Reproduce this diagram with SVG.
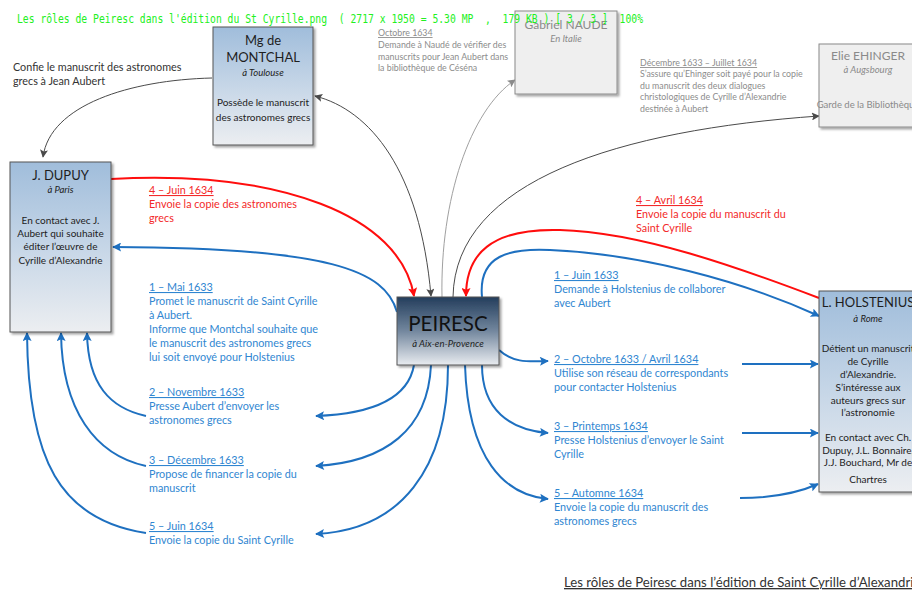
<svg xmlns="http://www.w3.org/2000/svg" width="912" height="592" viewBox="0 0 912 592">
<style>
text{font-family:Lato,"Open Sans","Liberation Sans",sans-serif}
.nm{font-size:13px;fill:#1e1e1e;text-anchor:middle}
.pl{font-size:9.5px;fill:#222;font-style:italic;text-anchor:middle}
.ds{font-size:10px;fill:#222;text-anchor:middle}
.gn{font-size:12px;fill:#8a8a8a;text-anchor:middle}
.gp{font-size:9.5px;fill:#8a8a8a;font-style:italic;text-anchor:middle}
.gd{font-size:9.5px;fill:#8a8a8a;text-anchor:middle}
.ga{font-size:8.8px;fill:#8c8c8c}
.bl{font-size:10.8px;fill:#2f86d1}
.rd{font-size:10.8px;fill:#f32a2a}
.u{text-decoration:underline}
.cb{fill:none;stroke:#1e70c0;stroke-width:2}
.cr{fill:none;stroke:#ff0d0d;stroke-width:2}
.cg{fill:none;stroke:#4a4a4a;stroke-width:1}
.cl{fill:none;stroke:#a0a0a0;stroke-width:1}
</style>
<defs>
<linearGradient id="gBlue" x1="0" y1="0" x2="0" y2="1">
<stop offset="0" stop-color="#a0bddb"/><stop offset="0.5" stop-color="#c6d6e7"/><stop offset="1" stop-color="#eceef1"/>
</linearGradient>
<linearGradient id="gPei" x1="0" y1="0" x2="0" y2="1">
<stop offset="0" stop-color="#233d5c"/><stop offset="0.5" stop-color="#73879e"/><stop offset="1" stop-color="#e9ecf0"/>
</linearGradient>
<filter id="sh" x="-10%" y="-10%" width="130%" height="130%">
<feDropShadow dx="2" dy="2" stdDeviation="1.2" flood-color="#000" flood-opacity="0.35"/>
</filter>
<marker id="mb" viewBox="0 0 10 10" refX="9" refY="5" markerWidth="10" markerHeight="9" markerUnits="userSpaceOnUse" orient="auto"><path d="M0,0 L10,5 L0,10 L2,5 z" fill="#1e70c0"/></marker>
<marker id="mr" viewBox="0 0 10 10" refX="9" refY="5" markerWidth="10" markerHeight="9" markerUnits="userSpaceOnUse" orient="auto"><path d="M0,0 L10,5 L0,10 L2,5 z" fill="#ff0d0d"/></marker>
<marker id="mg" viewBox="0 0 10 10" refX="9" refY="5" markerWidth="9" markerHeight="8" markerUnits="userSpaceOnUse" orient="auto-start-reverse"><path d="M0,0 L10,5 L0,10 L2,5 z" fill="#4a4a4a"/></marker>
<marker id="ml" viewBox="0 0 10 10" refX="9" refY="5" markerWidth="9" markerHeight="8" markerUnits="userSpaceOnUse" orient="auto"><path d="M0,0 L10,5 L0,10 L2,5 z" fill="#8a8a8a"/></marker>
</defs>
<rect width="912" height="592" fill="#fff"/>

<g id="connectors">
<path class="cg" d="M212,78 C130,80 50,105 43,157" marker-end="url(#mg)"/>
<path class="cg" d="M431,296 C420,170 370,110 315,96" marker-start="url(#mg)" marker-end="url(#mg)"/>
<path class="cl" d="M442,297 C440,200 470,110 515,80" marker-end="url(#ml)"/>
<path class="cg" d="M453,297 C455,180 620,130 819,116" marker-end="url(#mg)"/>
<path class="cr" d="M111,179 C280,170 400,215 414,296" marker-end="url(#mr)"/>
<path class="cr" d="M819,298 C740,268 640,232 560,230 C490,228 466,255 466,296" marker-end="url(#mr)"/>
<path class="cb" d="M482,297 C478,255 510,248 550,250 C640,254 740,280 819,316" marker-end="url(#mb)"/>
<path class="cb" d="M397,312 C385,270 330,248 113,247" marker-end="url(#mb)"/>
<path class="cb" d="M414,365 C408,400 370,414 316,416" marker-end="url(#mb)"/>
<path class="cb" d="M431,365 C428,430 385,462 316,466" marker-end="url(#mb)"/>
<path class="cb" d="M448,365 C448,470 400,530 316,534" marker-end="url(#mb)"/>
<path class="cb" d="M499,350 C512,362 525,362 548,361" marker-end="url(#mb)"/>
<path class="cb" d="M482,365 C482,410 510,430 548,433" marker-end="url(#mb)"/>
<path class="cb" d="M465,365 C468,460 505,495 548,499" marker-end="url(#mb)"/>
<path class="cb" d="M146,416 C110,408 88,385 87,333" marker-end="url(#mb)"/>
<path class="cb" d="M146,466 C95,455 62,410 61,333" marker-end="url(#mb)"/>
<path class="cb" d="M146,533 C60,520 28,460 27,333" marker-end="url(#mb)"/>
<path class="cb" d="M742,364 L818,364" marker-end="url(#mb)"/>
<path class="cb" d="M742,433 L818,433" marker-end="url(#mb)"/>
<path class="cb" d="M740,498 C775,498 800,492 818,484" marker-end="url(#mb)"/>
</g>

<g id="montchal">
<rect x="213" y="27" width="100" height="118" fill="url(#gBlue)" stroke="#555" stroke-width="1" filter="url(#sh)"/>
<text class="nm" x="263" y="45">Mg de</text>
<text class="nm" x="263" y="62">MONTCHAL</text>
<text class="pl" x="263" y="76">à Toulouse</text>
<text class="ds" x="263" y="106">Possède le manuscrit</text>
<text class="ds" x="263" y="121">des astronomes grecs</text>
</g>

<g id="dupuy">
<rect x="10" y="162" width="101" height="170" fill="url(#gBlue)" stroke="#555" stroke-width="1" filter="url(#sh)"/>
<text class="nm" x="60.5" y="180">J. DUPUY</text>
<text class="pl" x="60.5" y="193">à Paris</text>
<text class="ds" x="60.5" y="224">En contact avec J.</text>
<text class="ds" x="60.5" y="237">Aubert qui souhaite</text>
<text class="ds" x="60.5" y="250">éditer l’œuvre de</text>
<text class="ds" x="60.5" y="264">Cyrille d’Alexandrie</text>
</g>

<g id="peiresc">
<rect x="397" y="297" width="102" height="68" fill="url(#gPei)" stroke="#555" stroke-width="1" filter="url(#sh)"/>
<text x="448" y="331" style="font-size:20.5px;fill:#111;text-anchor:middle">PEIRESC</text>
<text class="pl" x="448" y="347">à Aix-en-Provence</text>
</g>

<g id="holstenius">
<rect x="819" y="291" width="100" height="201" fill="url(#gBlue)" stroke="#555" stroke-width="1" filter="url(#sh)"/>
<text class="nm" x="868" y="307">L. HOLSTENIUS</text>
<text class="pl" x="868" y="322">à Rome</text>
<text class="ds" x="868" y="352">Détient  un manuscrit</text>
<text class="ds" x="868" y="365">de Cyrille</text>
<text class="ds" x="868" y="378">d’Alexandrie.</text>
<text class="ds" x="868" y="391">S’intéresse aux</text>
<text class="ds" x="868" y="404">auteurs grecs sur</text>
<text class="ds" x="868" y="416">l’astronomie</text>
<text class="ds" x="868" y="441">En contact avec Ch.</text>
<text class="ds" x="868" y="454">Dupuy, J.L. Bonnaire,</text>
<text class="ds" x="868" y="466">J.J. Bouchard, Mr de</text>
<text class="ds" x="868" y="483">Chartres</text>
</g>

<g id="naude">
<rect x="515" y="11" width="102" height="83" fill="#efefef" stroke="#8a8a8a" stroke-width="1" filter="url(#sh)"/>
<text class="gn" x="566" y="29">Gabriel NAUDE</text>
<text class="gp" x="566" y="42">En Italie</text>
</g>

<g id="ehinger">
<rect x="819" y="44" width="100" height="83" fill="#efefef" stroke="#8a8a8a" stroke-width="1" filter="url(#sh)"/>
<text class="gn" x="868" y="60">Elie EHINGER</text>
<text class="gp" x="868" y="73">à Augsbourg</text>
<text class="gd" x="868" y="108">Garde de la Bibliothèque</text>
</g>

<g id="labels">
<text x="13" y="71" style="font-size:10.8px;fill:#333">Confie le manuscrit des astronomes</text>
<text x="13" y="85" style="font-size:10.8px;fill:#333">grecs à Jean Aubert</text>

<text class="ga u" x="378" y="36">Octobre 1634</text>
<text class="ga" x="378" y="48">Demande à Naudé de vérifier des</text>
<text class="ga" x="378" y="60">manuscrits pour Jean Aubert dans</text>
<text class="ga" x="378" y="71">la bibliothèque de Céséna</text>

<text class="ga u" x="640" y="66">Décembre 1633 – Juillet 1634</text>
<text class="ga" x="640" y="77">S’assure qu’Ehinger soit payé pour la copie</text>
<text class="ga" x="640" y="89">du manuscrit des deux dialogues</text>
<text class="ga" x="640" y="100">christologiques de Cyrille d’Alexandrie</text>
<text class="ga" x="640" y="112">destinée à Aubert</text>

<text class="rd u" x="149" y="194">4 – Juin 1634</text>
<text class="rd" x="149" y="208">Envoie la copie des astronomes</text>
<text class="rd" x="149" y="222">grecs</text>

<text class="rd u" x="636" y="204">4 – Avril 1634</text>
<text class="rd" x="636" y="218">Envoie la copie du manuscrit du</text>
<text class="rd" x="636" y="232">Saint Cyrille</text>

<text class="bl u" x="149" y="291">1 – Mai 1633</text>
<text class="bl" x="149" y="305">Promet le manuscrit de Saint Cyrille</text>
<text class="bl" x="149" y="319">à Aubert.</text>
<text class="bl" x="149" y="333">Informe que Montchal souhaite que</text>
<text class="bl" x="149" y="347">le manuscrit des astronomes grecs</text>
<text class="bl" x="149" y="361">lui soit envoyé pour Holstenius</text>

<text class="bl u" x="149" y="396">2 – Novembre 1633</text>
<text class="bl" x="149" y="410">Presse Aubert d’envoyer les</text>
<text class="bl" x="149" y="424">astronomes grecs</text>

<text class="bl u" x="149" y="464">3 – Décembre 1633</text>
<text class="bl" x="149" y="478">Propose de financer la copie du</text>
<text class="bl" x="149" y="492">manuscrit</text>

<text class="bl u" x="149" y="530">5 – Juin 1634</text>
<text class="bl" x="149" y="544">Envoie la copie du Saint Cyrille</text>

<text class="bl u" x="554" y="279">1 – Juin 1633</text>
<text class="bl" x="554" y="293">Demande à Holstenius de collaborer</text>
<text class="bl" x="554" y="307">avec Aubert</text>

<text class="bl u" x="554" y="363">2 – Octobre 1633 / Avril 1634</text>
<text class="bl" x="554" y="377">Utilise son réseau de correspondants</text>
<text class="bl" x="554" y="391">pour contacter Holstenius</text>

<text class="bl u" x="554" y="430">3 – Printemps 1634</text>
<text class="bl" x="554" y="444">Presse Holstenius d’envoyer le Saint</text>
<text class="bl" x="554" y="458">Cyrille</text>

<text class="bl u" x="554" y="497">5 – Automne 1634</text>
<text class="bl" x="554" y="511">Envoie la copie du manuscrit des</text>
<text class="bl" x="554" y="525">astronomes grecs</text>

<text class="u" x="564" y="587" style="font-size:13.2px;fill:#333">Les rôles de Peiresc dans l’édition de Saint Cyrille d’Alexandrie</text>
</g>

<text x="17" y="23" textLength="626" lengthAdjust="spacingAndGlyphs" style="font-family:'DejaVu Sans Mono',monospace;font-size:12px;fill:#22f022;white-space:pre">Les rôles de Peiresc dans l'édition du St Cyrille.png  ( 2717 x 1950 = 5.30 MP  ,  179 KB ) [ 3 / 3 ]  100%</text>
</svg>
